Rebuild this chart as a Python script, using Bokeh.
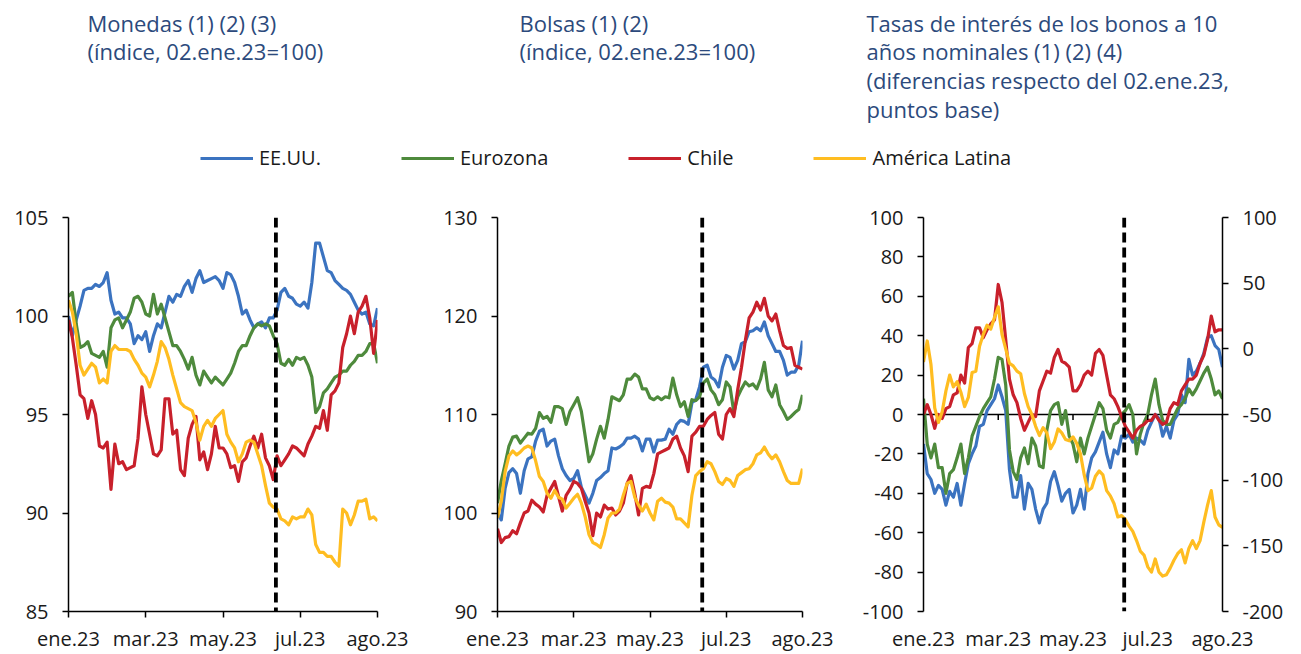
from bokeh.plotting import figure
from bokeh.models import Range1d, LinearAxis, FixedTicker, Span, Legend, LegendItem
from bokeh.layouts import column, row
from bokeh.embed import file_html
from bokeh.resources import INLINE
from bokeh.core.properties import value

# ---------------- data ----------------
series_names = ["EE.UU.", "Eurozona", "Chile", "América Latina"]
x_ticks = [0, 20, 40, 60, 80]
x_tick_labels = ["ene.23", "mar.23", "may.23", "jul.23", "ago.23"]
event_x = 53.7   # vertical dashed marker

titles = [
    ["Monedas (1) (2) (3)", "(índice, 02.ene.23=100)"],
    ["Bolsas (1) (2)", "(índice, 02.ene.23=100)"],
    ["Tasas de interés de los bonos a 10", "años nominales (1) (2) (4)",
     "(diferencias respecto del 02.ene.23,", "puntos base)"],
]

mon_usa = [100.0, 99.0, 99.8, 100.5, 101.3, 101.4, 101.4, 101.6, 101.5, 101.7,
           102.2, 100.8, 100.1, 100.2, 99.9, 99.9, 99.6, 98.6, 99.0, 98.8,
           99.2, 98.2, 99.0, 99.6, 99.4, 100.2, 101.0, 100.7, 101.1, 101.0,
           101.5, 101.8, 101.2, 101.9, 102.3, 101.7, 101.8, 101.9, 102.0, 101.8,
           101.4, 102.2, 102.1, 101.7, 101.0, 100.1, 100.3, 99.8, 99.4, 99.6,
           99.7, 99.4, 99.9, 99.9, 100.3, 101.2, 101.4, 101.0, 100.9, 100.6,
           100.5, 100.7, 100.4, 101.7, 103.7, 103.7, 103.0, 102.3, 102.2, 101.8,
           101.6, 101.4, 101.3, 101.1, 100.7, 100.3, 100.1, 100.2, 99.6, 99.5, 100.4]
mon_eur = [101.0, 101.2, 99.6, 98.4, 98.5, 98.7, 98.1, 98.0, 97.9, 98.2,
           97.4, 99.4, 99.8, 99.9, 99.4, 99.8, 100.2, 100.9, 101.0, 100.7,
           100.1, 100.0, 101.1, 100.1, 100.6, 99.9, 99.2, 98.5, 98.5, 98.2,
           97.8, 97.3, 97.9, 97.0, 96.5, 97.2, 96.9, 96.6, 96.9, 96.7,
           96.5, 96.8, 97.1, 97.6, 98.2, 98.5, 98.5, 99.0, 99.4, 99.6,
           99.5, 99.6, 99.5, 99.0, 98.6, 97.6, 97.5, 97.8, 97.5, 97.9,
           97.8, 97.9, 97.5, 96.9, 95.1, 95.4, 96.1, 96.3, 96.6, 96.9,
           97.0, 97.2, 97.2, 97.5, 97.7, 98.0, 98.0, 98.2, 98.6, 98.6, 97.6]
mon_chl = [99.8, 98.9, 97.5, 96.0, 95.8, 94.8, 95.7, 95.0, 93.4, 93.3,
           93.6, 91.2, 93.5, 92.5, 92.6, 92.2, 92.3, 92.4, 93.8, 96.4,
           95.0, 94.0, 93.0, 92.9, 93.2, 95.8, 95.8, 94.0, 94.2, 92.2,
           91.9, 93.8, 94.5, 94.9, 92.7, 93.1, 92.2, 93.0, 94.4, 93.3,
           93.3, 93.0, 92.3, 92.4, 91.6, 92.6, 92.8, 93.4, 93.9, 93.3,
           94.0, 92.8, 92.4, 91.7, 92.9, 92.4, 92.7, 93.0, 93.4, 93.3,
           93.1, 92.9, 93.5, 93.9, 94.4, 94.3, 95.2, 94.2, 96.0, 96.2,
           96.6, 98.4, 99.1, 100.0, 99.1, 100.2, 100.5, 101.0, 99.9, 98.1, 99.8]
mon_lat = [100.8, 100.2, 99.1, 97.5, 97.0, 97.3, 97.6, 97.4, 96.6, 96.8,
           96.6, 98.2, 98.5, 98.3, 98.3, 98.3, 98.2, 97.8, 97.5, 97.1,
           96.9, 96.4, 97.0, 97.7, 98.7, 98.4, 97.8, 97.0, 96.3, 95.6,
           95.4, 95.3, 95.2, 94.6, 93.7, 94.4, 94.7, 94.4, 94.8, 95.0,
           95.2, 94.0, 93.6, 93.3, 92.6, 93.0, 93.6, 93.7, 93.6, 93.0,
           92.4, 91.4, 90.5, 90.3, 90.2, 89.7, 89.6, 89.4, 89.8, 89.7,
           89.8, 89.8, 90.2, 89.9, 88.4, 88.0, 88.0, 87.8, 87.8, 87.5,
           87.3, 90.2, 90.0, 89.4, 89.9, 90.6, 90.6, 90.7, 89.7, 89.8, 89.6]

bol_usa = [100.0, 99.3, 102.5, 104.1, 104.5, 104.0, 102.0, 104.3, 105.5, 105.7,
           107.3, 108.3, 108.5, 106.8, 107.3, 107.5, 105.8, 104.5, 103.8, 103.3,
           103.5, 104.3, 102.6, 101.8, 101.0, 102.0, 103.3, 103.6, 104.0, 104.3,
           106.6, 106.5, 106.7, 107.0, 107.6, 107.6, 107.8, 107.5, 106.3, 107.5,
           107.5, 106.2, 107.4, 107.4, 107.5, 108.5, 108.0, 109.0, 109.4, 109.3,
           109.0, 111.2, 111.5, 112.8, 114.8, 115.0, 113.8, 113.5, 112.8, 114.8,
           116.0, 115.8, 114.6, 115.5, 117.2, 117.4, 118.4, 118.5, 118.8, 118.5,
           119.4, 118.0, 117.2, 116.4, 116.4, 115.5, 114.0, 114.3, 114.3, 115.0, 117.5]
bol_eur = [101.0, 103.3, 105.0, 106.8, 107.7, 107.8, 107.1, 107.6, 108.1, 108.0,
           108.6, 110.2, 109.6, 109.8, 109.2, 110.8, 110.8, 110.6, 109.0, 110.3,
           111.0, 111.7, 110.3, 107.8, 105.2, 106.0, 107.5, 108.8, 107.6, 109.5,
           111.8, 111.6, 111.4, 112.0, 113.6, 113.6, 114.1, 113.8, 112.6, 112.6,
           111.7, 111.5, 111.8, 111.5, 111.8, 111.7, 113.7, 112.0, 110.8, 111.3,
           109.8, 111.5, 111.4, 111.8, 113.2, 113.6, 112.5, 112.0, 111.0, 111.5,
           113.3, 112.8, 110.2, 111.8, 112.6, 113.3, 112.9, 113.1, 112.6, 113.6,
           115.3, 112.5, 111.8, 113.0, 111.0, 110.3, 109.5, 109.8, 110.2, 110.5, 112.0]
bol_chl = [98.4, 97.0, 97.5, 97.6, 98.2, 97.9, 99.0, 100.0, 100.2, 101.3,
           100.9, 100.6, 100.1, 101.8, 102.5, 103.2, 101.7, 100.2, 101.8, 102.4,
           103.2, 103.0, 102.5, 101.2, 100.0, 97.7, 100.0, 99.6, 100.8, 100.4,
           100.5, 99.8, 100.2, 101.0, 103.0, 103.8, 102.0, 99.8, 102.5, 102.7,
           102.6, 104.0, 106.0, 106.2, 106.4, 106.6, 107.5, 107.8, 106.6, 105.8,
           104.2, 107.8, 108.2, 108.8, 108.8, 109.5, 109.9, 110.2, 108.0, 107.5,
           110.0, 110.6, 109.8, 112.5, 114.8, 117.5, 119.8, 120.4, 121.4, 120.6,
           121.8, 120.0, 119.5, 120.2, 118.5, 117.0, 116.7, 116.8, 115.0, 114.8, 114.6]
bol_lat = [99.5, 101.2, 104.2, 105.8, 106.3, 105.9, 106.2, 106.6, 106.8, 106.6,
           105.3, 103.7, 103.2, 102.0, 101.5, 102.3, 101.6, 101.4, 100.5, 101.0,
           101.5, 101.9, 101.0, 99.6, 97.8, 97.0, 96.8, 96.5, 97.8, 99.5,
           100.0, 100.0, 100.4, 101.8, 103.0, 103.2, 101.6, 100.8, 100.2, 100.9,
           100.0, 99.3, 101.2, 101.5, 101.1, 101.0, 100.6, 99.4, 99.4, 99.0,
           98.6, 101.8, 103.8, 104.2, 104.5, 105.2, 105.0, 104.2, 103.2, 102.9,
           103.5, 103.3, 102.7, 103.8, 104.1, 104.4, 104.5, 105.0, 105.9, 106.1,
           106.7, 106.0, 105.5, 105.9, 105.2, 104.2, 103.3, 103.0, 103.0, 103.0, 104.5]

tas_usa = [-15, -30, -33, -40, -36, -38, -46, -39, -42, -35,
           -46, -35, -25, -20, -16, -6, -5, 2, 5, 8,
           15, 9, 2, -28, -42, -42, -31, -48, -35, -38,
           -48, -55, -48, -45, -34, -29, -36, -44, -40, -38,
           -50, -46, -38, -48, -30, -22, -19, -14, -9, -20,
           -27, -18, -20, -11, -12, -10, -14, -12, -13, -15,
           -8, -4, 0, -2, -11, -6, -12, -3, 0, 10,
           6, 28, 20, 22, 26, 31, 39, 40, 35, 33, 24]
tas_eur = [8, -15, -22, -15, -27, -27, -40, -30, -28, -22,
           -15, -30, -22, -11, -6, -1, 3, 6, 9, 18,
           29, 28, 15, -18, -29, -33, -22, -17, -25, -12,
           -16, -26, -27, -8, 2, 5, 6, -5, 2, -11,
           -15, -24, -12, -20, -12, -6, 0, 6, 3, -8,
           -12, -5, -4, 0, 2, 5, 0, -20, -10, -4,
           0, 10, 18, 5, -3, -5, -5, -1, 3, 5,
           8, 13, 10, 13, 17, 21, 24, 18, 10, 12, 8]
tas_chl = [0, 5, 0, -7, 0, -2, 3, 4, 10, 11,
           20, 16, 34, 36, 44, 44, 39, 43, 46, 48,
           66, 57, 38, 18, 10, 6, -2, -8, -4, 0,
           -1, 12, 17, 22, 21, 29, 33, 27, 26, 24,
           12, 12, 15, 20, 22, 20, 31, 33, 30, 20,
           10, 8, 4, -1, -6, -9, -12, -8, -6, -5,
           -3, -3, 0, -3, -5, -4, 3, 6, 5, 12,
           15, 18, 18, 20, 26, 30, 38, 50, 42, 43, 43]
tas_lat = [-10, 6, -12, -45, -56, -48, -32, -20, -29, -25,
           -33, -44, -37, -18, -17, 2, 11, 18, 15, 24,
           32, 11, 0, -11, -13, -17, -19, -34, -44, -50,
           -59, -66, -60, -64, -76, -71, -61, -64, -69, -70,
           -67, -72, -80, -96, -108, -106, -97, -93, -96, -108,
           -112, -118, -128, -127, -130, -135, -139, -146, -154, -157,
           -166, -170, -160, -170, -173, -172, -167, -161, -156, -153,
           -163, -152, -146, -152, -146, -132, -119, -108, -128, -134, -136]

# ---------------- styles ----------------
COLORS = ["#3B73C0", "#4E8A3C", "#C8202B", "#FFBD21"]
FONT = "Open Sans"
TITLE_COLOR = "#2C4A7C"
TEXT_COLOR = "#1a1a1a"
LW = 3.2
PH = 464
n = len(mon_usa)
xs = list(range(n))


def style_axis(ax, ticks, standoff):
    ax.ticker = FixedTicker(ticks=ticks)
    ax.major_label_overrides = {t: str(t) for t in ticks}   # plain hyphen minus
    ax.axis_line_color = "black"
    ax.axis_line_width = 1.5
    ax.major_tick_line_color = "black"
    ax.major_tick_line_width = 1.5
    ax.major_tick_out = 6
    ax.major_tick_in = 0
    ax.minor_tick_line_color = None
    ax.major_label_text_font = FONT
    ax.major_label_text_font_size = "20px"
    ax.major_label_text_color = TEXT_COLOR
    ax.major_label_standoff = standoff


def make_panel(width, left, right, top, yr, yticks, series, hide_bottom_line=False):
    p = figure(width=width, height=PH, x_range=Range1d(0, n - 1), y_range=Range1d(*yr),
               toolbar_location=None, output_backend="svg", title=None,
               min_border_left=left, min_border_right=right,
               min_border_top=top, min_border_bottom=10)
    p.xgrid.visible = False
    p.ygrid.visible = False
    p.outline_line_color = None
    p.background_fill_color = "white"
    p.border_fill_color = "white"
    style_axis(p.xaxis[0], x_ticks, 7)
    p.xaxis[0].major_label_overrides = {t: l for t, l in zip(x_ticks, x_tick_labels)}
    style_axis(p.yaxis[0], yticks, 14)
    if hide_bottom_line:
        p.xaxis[0].axis_line_color = None
        p.xaxis[0].major_tick_line_color = None
    for ys, c in zip(series, COLORS):
        if ys is not None:
            p.line(xs, ys, line_color=c, line_width=LW, line_join="round")
    return p


# Panel 1: Monedas
p1 = make_panel(440, 68, 63, 22, (85, 105), [85, 90, 95, 100, 105],
                [mon_usa, mon_eur, mon_chl, mon_lat])
# Panel 2: Bolsas
p2 = make_panel(410, 54, 48, 27, (90, 130), [90, 100, 110, 120, 130],
                [bol_usa, bol_eur, bol_chl, bol_lat])
# Panel 3: Tasas (América Latina on right axis)
p3 = make_panel(451, 73, 79, 27, (-100, 100), list(range(-100, 101, 20)),
                [tas_usa, tas_eur, tas_chl, None], hide_bottom_line=True)
p3.extra_y_ranges = {"der": Range1d(-200, 100)}
ax_r = LinearAxis(y_range_name="der")
style_axis(ax_r, list(range(-200, 101, 50)), 14)
p3.add_layout(ax_r, "right")
p3.line(xs, tas_lat, line_color=COLORS[3], line_width=LW, line_join="round", y_range_name="der")
p3.add_layout(Span(location=0, dimension="width", line_color="black", line_width=1.5, level="underlay"))
p3.segment(x0=x_ticks, y0=[0] * len(x_ticks), x1=x_ticks, y1=[-2.8] * len(x_ticks),
           line_color="black", line_width=1.5)

for p in (p1, p2, p3):
    p.add_layout(Span(location=event_x, dimension="height", line_color="black",
                      line_width=3.8, line_dash="10 5"))

# ---------------- header (titles + legend) ----------------
HW, HH = 1301, 190
header = figure(width=HW, height=HH, x_range=Range1d(0, HW), y_range=Range1d(HH, 0),
                toolbar_location=None, output_backend="svg", x_axis_type=None, y_axis_type=None,
                min_border=0, title=None)
header.outline_line_color = None
header.xgrid.visible = False
header.ygrid.visible = False

title_x0 = [87, 519, 866]
tx, ty, tt = [], [], []
for x0, lines in zip(title_x0, titles):
    for i, line in enumerate(lines):
        tx.append(x0)
        ty.append(22 + 28.7 * i)
        tt.append(line)
header.text(x=tx, y=ty, text=tt, text_font=value(FONT), text_font_size="22px",
            text_color=TITLE_COLOR, text_baseline="alphabetic", text_align="left")

items = []
nan = float("nan")
for name, c in zip(series_names, COLORS):
    r = header.line(x=[nan], y=[nan], line_color=c, line_width=LW)
    items.append(LegendItem(label=name, renderers=[r]))
legend = Legend(items=items, orientation="horizontal", location=(200, 19),
                glyph_width=53, glyph_height=20, label_standoff=6, spacing=80,
                padding=0, margin=0, border_line_color=None, background_fill_alpha=0,
                label_text_font=FONT, label_text_font_size="20px", label_text_color=TEXT_COLOR)
header.add_layout(legend)

layout = column(header, row(p1, p2, p3))
open("out.html", "w").write(file_html(layout, INLINE))
